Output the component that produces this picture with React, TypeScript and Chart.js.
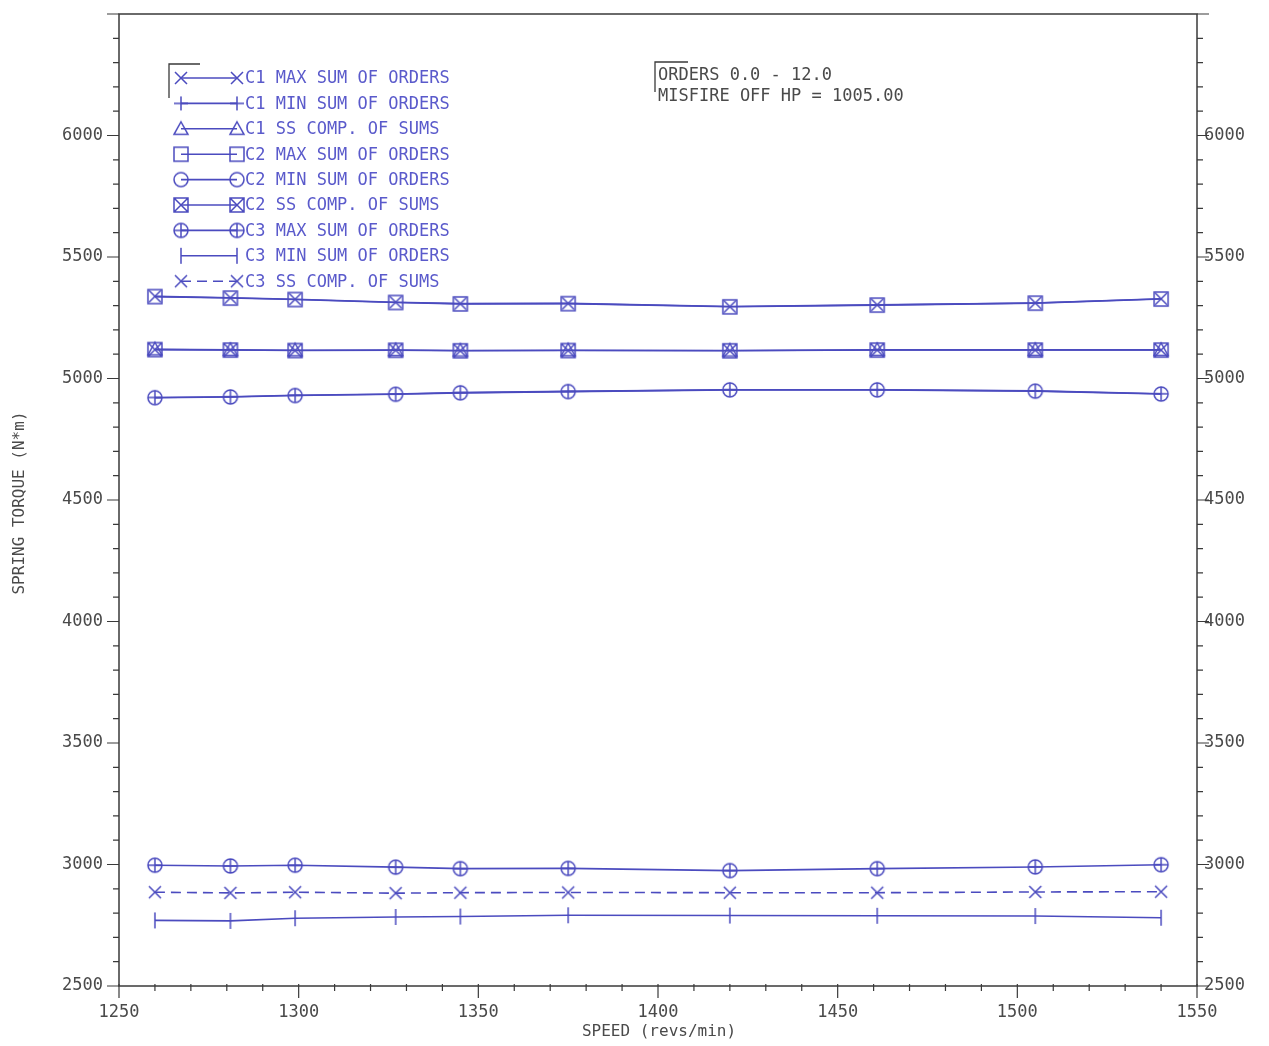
import React, { useEffect, useRef } from 'react';
import { Chart, registerables } from 'chart.js';

Chart.register(...registerables);

// ---- data ----
const speeds = [1260, 1281, 1299, 1327, 1345, 1375, 1420, 1461, 1505, 1540];
const c1Max = [5338, 5332, 5326, 5314, 5308, 5309, 5296, 5303, 5311, 5328];
const c1Min = [4922, 4925, 4931, 4936, 4942, 4947, 4954, 4954, 4949, 4937];
const c1SS = [5120, 5118, 5116, 5117, 5115, 5116, 5115, 5118, 5118, 5118];
const c2Max = [5337, 5331, 5325, 5313, 5307, 5308, 5295, 5302, 5310, 5327];
const c2Min = [4921, 4924, 4930, 4935, 4941, 4946, 4953, 4953, 4948, 4936];
const c2SS = [5119, 5117, 5115, 5116, 5114, 5115, 5114, 5117, 5117, 5117];
const c3Max = [2997, 2994, 2997, 2989, 2983, 2984, 2975, 2983, 2990, 2999];
const c3Min = [2770, 2768, 2779, 2784, 2786, 2791, 2790, 2789, 2788, 2781];
const c3SS = [2886, 2883, 2886, 2882, 2884, 2885, 2884, 2884, 2887, 2888];

const seriesLabels = [
  'C1 MAX SUM OF ORDERS',
  'C1 MIN SUM OF ORDERS',
  'C1 SS COMP. OF SUMS',
  'C2 MAX SUM OF ORDERS',
  'C2 MIN SUM OF ORDERS',
  'C2 SS COMP. OF SUMS',
  'C3 MAX SUM OF ORDERS',
  'C3 MIN SUM OF ORDERS',
  'C3 SS COMP. OF SUMS',
];
const xTickLabels = [1250, 1300, 1350, 1400, 1450, 1500, 1550];
const yTickLabels = [2500, 3000, 3500, 4000, 4500, 5000, 5500, 6000];
const xMinorStep = 10;
const yMinorStep = 100;
const notes = ['ORDERS 0.0 - 12.0', 'MISFIRE OFF HP = 1005.00'];
const xTitle = 'SPEED (revs/min)';
const yTitle = 'SPRING TORQUE (N*m)';

const LINE = '#4b4bbf';
const LEGEND_TEXT = '#5a5acb';
const AXIS = '#3a3a3a';
const TEXT = '#4a4a4a';
const FONT = '"DejaVu Sans Mono", "Liberation Mono", monospace';

type Shape = 'x' | 'plus' | 'tri' | 'square' | 'circle' | 'boxX' | 'circlePlus' | 'vbar';

function makeMarker(shape: Shape): HTMLCanvasElement {
  const c = document.createElement('canvas');
  c.width = 20;
  c.height = 20;
  const g = c.getContext('2d')!;
  g.strokeStyle = LINE;
  g.lineWidth = 1.5;
  const m = 10;
  const r = 7;
  g.beginPath();
  if (shape === 'x' || shape === 'boxX') {
    const d = shape === 'x' ? 6 : 6.5;
    g.moveTo(m - d, m - d); g.lineTo(m + d, m + d);
    g.moveTo(m - d, m + d); g.lineTo(m + d, m - d);
  }
  if (shape === 'plus' || shape === 'circlePlus') {
    g.moveTo(m - r, m); g.lineTo(m + r, m);
    g.moveTo(m, m - r); g.lineTo(m, m + r);
  }
  if (shape === 'tri') {
    g.moveTo(m, m - r); g.lineTo(m + r, m + r * 0.8); g.lineTo(m - r, m + r * 0.8); g.closePath();
  }
  if (shape === 'square' || shape === 'boxX') {
    g.rect(m - 7, m - 7, 14, 14);
  }
  if (shape === 'circle' || shape === 'circlePlus') {
    g.moveTo(m + r, m);
    g.arc(m, m, r, 0, Math.PI * 2);
  }
  if (shape === 'vbar') {
    g.moveTo(m, m - 8); g.lineTo(m, m + 8);
  }
  g.stroke();
  return c;
}

const shapes: Shape[] = ['x', 'plus', 'tri', 'square', 'circle', 'boxX', 'circlePlus', 'vbar', 'x'];
const seriesData = [c1Max, c1Min, c1SS, c2Max, c2Min, c2SS, c3Max, c3Min, c3SS];

export default function App() {
  const ref = useRef<HTMLCanvasElement>(null);

  useEffect(() => {
    const canvas = ref.current!;
    const markers = shapes.map(makeMarker);

    const datasets = seriesLabels.map((label, i) => ({
      label,
      data: speeds.map((s, k) => ({ x: s, y: seriesData[i][k] })),
      borderColor: LINE,
      backgroundColor: 'transparent',
      borderWidth: 1.6,
      borderDash: i === 8 ? [10, 6] : [],
      pointStyle: markers[i] as any,
      pointRadius: 7,
      pointHoverRadius: 7,
      tension: 0,
      yAxisID: 'y',
    }));

    const decor = {
      id: 'decor',
      afterDraw(chart: any) {
        const ctx = chart.ctx as CanvasRenderingContext2D;
        const a = chart.chartArea;
        const xs = chart.scales.x;
        const ys = chart.scales.y;
        ctx.save();
        // frame
        ctx.strokeStyle = AXIS;
        ctx.lineWidth = 1.5;
        ctx.strokeRect(a.left, a.top, a.right - a.left, a.bottom - a.top);
        // y ticks (left & right)
        ctx.lineWidth = 1.2;
        ctx.beginPath();
        for (let v = ys.min; v <= ys.max + 0.001; v += yMinorStep) {
          const p = ys.getPixelForValue(v);
          const len = v % 500 === 0 ? 12 : 6;
          ctx.moveTo(a.left - len, p); ctx.lineTo(a.left, p);
          ctx.moveTo(a.right, p); ctx.lineTo(a.right + len, p);
        }
        for (let v = xs.min; v <= xs.max + 0.001; v += xMinorStep) {
          const p = xs.getPixelForValue(v);
          const len = v % 50 === 0 ? 12 : 5;
          ctx.moveTo(p, a.bottom - 2); ctx.lineTo(p, a.bottom + len);
        }
        ctx.stroke();

        // axis titles
        ctx.fillStyle = TEXT;
        ctx.font = `16px ${FONT}`;
        ctx.textAlign = 'center';
        ctx.textBaseline = 'middle';
        ctx.fillText(xTitle, (a.left + a.right) / 2 + 1, 1032);
        ctx.save();
        ctx.translate(20, 503);
        ctx.rotate(-Math.PI / 2);
        ctx.fillText(yTitle, 0, 0);
        ctx.restore();

        // legend
        ctx.font = `17px ${FONT}`;
        ctx.textAlign = 'left';
        chart.data.datasets.forEach((ds: any, i: number) => {
          const y = 78 + i * 25.4;
          ctx.strokeStyle = LINE;
          ctx.lineWidth = 1.6;
          ctx.setLineDash(ds.borderDash || []);
          ctx.beginPath();
          ctx.moveTo(181, y); ctx.lineTo(237, y);
          ctx.stroke();
          ctx.setLineDash([]);
          ctx.drawImage(markers[i], 181 - 10, y - 10);
          ctx.drawImage(markers[i], 237 - 10, y - 10);
          ctx.fillStyle = LEGEND_TEXT;
          ctx.fillText(ds.label, 245, y + 1);
        });
        // brackets
        ctx.strokeStyle = AXIS;
        ctx.lineWidth = 1.3;
        ctx.beginPath();
        ctx.moveTo(169, 98); ctx.lineTo(169, 64); ctx.lineTo(200, 64);
        ctx.moveTo(655, 92); ctx.lineTo(655, 62); ctx.lineTo(688, 62);
        ctx.stroke();
        // notes
        ctx.fillStyle = TEXT;
        ctx.font = `17px ${FONT}`;
        notes.forEach((t, i) => ctx.fillText(t, 658, 76 + i * 21));
        ctx.restore();
      },
    };

    const tickFont = { family: FONT, size: 17 };
    const plain = (v: any) => String(v);
    const fitY = (w: number) => (s: any) => {
      s.width = w;
      s.paddingTop = 0;
      s.paddingBottom = 0;
    };
    const chart = new Chart(canvas, {
      type: 'line',
      data: { datasets: datasets as any },
      plugins: [decor],
      options: {
        animation: false,
        responsive: false,
        devicePixelRatio: 1,
        layout: { padding: { top: 14, left: 0, right: 0, bottom: 0 } },
        plugins: { legend: { display: false }, tooltip: { enabled: false } },
        scales: {
          x: {
            type: 'linear',
            min: 1250,
            max: 1550,
            grid: { display: false, drawTicks: false },
            border: { display: false },
            afterBuildTicks: (s: any) => { s.ticks = xTickLabels.map((v) => ({ value: v })); },
            afterFit: (s: any) => { s.height = 60; },
            ticks: { font: tickFont, color: TEXT, padding: 16, maxRotation: 0, autoSkip: false, callback: plain },
          },
          y: {
            type: 'linear',
            position: 'left',
            min: 2500,
            max: 6500,
            grid: { display: false, drawTicks: false },
            border: { display: false },
            afterBuildTicks: (s: any) => { s.ticks = yTickLabels.map((v) => ({ value: v })); },
            afterFit: fitY(119),
            ticks: { font: tickFont, color: TEXT, padding: 16, callback: plain },
          },
          y2: {
            type: 'linear',
            position: 'right',
            display: true,
            min: 2500,
            max: 6500,
            grid: { display: false, drawTicks: false },
            border: { display: false },
            afterBuildTicks: (s: any) => { s.ticks = yTickLabels.map((v) => ({ value: v })); },
            afterFit: fitY(72),
            ticks: { font: tickFont, color: TEXT, padding: 7, callback: plain },
          },
        },
      } as any,
    });
    return () => chart.destroy();
  }, []);

  return (
    <div style={{ position: 'fixed', left: 0, top: 0, width: 1269, height: 1046, background: '#fff' }}>
      <canvas ref={ref} width={1269} height={1046} style={{ width: 1269, height: 1046, display: 'block' }} />
    </div>
  );
}
